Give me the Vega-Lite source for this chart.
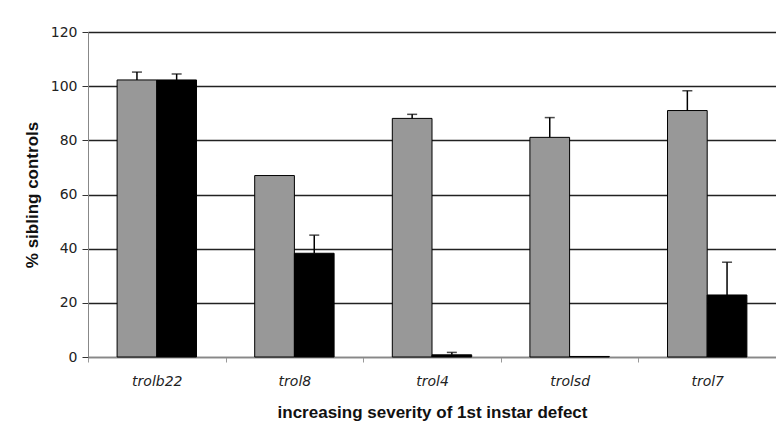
{
  "$schema": "https://vega.github.io/schema/vega-lite/v6.json",
  "width": 688,
  "height": 325,
  "autosize": {"type": "none"},
  "padding": {"left": 88, "top": 32, "right": 0, "bottom": 80},
  "background": "white",
  "config": {
    "view": {"stroke": null},
    "font": "DejaVu Sans"
  },
  "data": {
    "values": [
      {"strain": "trolb22", "group": "a", "value": 102.3, "upper": 105.2},
      {"strain": "trolb22", "group": "b", "value": 102.3, "upper": 104.5},
      {"strain": "trol8", "group": "a", "value": 67.0, "upper": null},
      {"strain": "trol8", "group": "b", "value": 38.3, "upper": 45.0},
      {"strain": "trol4", "group": "a", "value": 88.1, "upper": 89.6},
      {"strain": "trol4", "group": "b", "value": 0.8, "upper": 1.7},
      {"strain": "trolsd", "group": "a", "value": 81.1, "upper": 88.4},
      {"strain": "trolsd", "group": "b", "value": 0.2, "upper": null},
      {"strain": "trol7", "group": "a", "value": 91.0, "upper": 98.3},
      {"strain": "trol7", "group": "b", "value": 22.9, "upper": 35.0}
    ]
  },
  "encoding": {
    "x": {
      "field": "strain",
      "type": "nominal",
      "sort": null,
      "scale": {"padding": 0},
      "axis": {
        "title": "increasing severity of 1st instar defect",
        "titleFont": "Liberation Sans",
        "titleFontSize": 17,
        "titleFontWeight": "bold",
        "titleColor": "#111",
        "titlePadding": 16,
        "labelAngle": 0,
        "labelFont": "DejaVu Sans",
        "labelFontSize": 14,
        "labelFontStyle": "italic",
        "labelColor": "#222",
        "labelPadding": 12,
        "tickBand": "extent",
        "tickSize": 5,
        "tickColor": "#999",
        "domainColor": "#888",
        "grid": false
      }
    },
    "xOffset": {
      "field": "group",
      "type": "nominal",
      "scale": {"paddingInner": 0, "paddingOuter": 0.733}
    }
  },
  "layer": [
    {
      "mark": {"type": "bar", "stroke": "black", "strokeWidth": 1},
      "encoding": {
        "y": {
          "field": "value",
          "type": "quantitative",
          "scale": {"domain": [0, 120], "nice": false},
          "axis": {
            "title": "% sibling controls",
            "titleFont": "Liberation Sans",
            "titleFontSize": 17,
            "titleFontWeight": "bold",
            "titleColor": "#111",
            "titlePadding": 9,
            "values": [0, 20, 40, 60, 80, 100, 120],
            "labelFont": "DejaVu Sans",
            "labelFontSize": 14,
            "labelColor": "#222",
            "labelPadding": 5,
            "tickSize": 6,
            "tickColor": "#333",
            "domainColor": "#888",
            "grid": true,
            "gridColor": "#222",
            "gridWidth": 1.5
          }
        },
        "color": {
          "field": "group",
          "type": "nominal",
          "scale": {"domain": ["a", "b"], "range": ["#989898", "#000000"]},
          "legend": null
        }
      }
    },
    {
      "mark": {"type": "rule", "color": "black", "strokeWidth": 1.5},
      "encoding": {
        "y": {"field": "value", "type": "quantitative"},
        "y2": {"field": "upper"}
      }
    },
    {
      "mark": {"type": "tick", "color": "black", "size": 10, "thickness": 1.5, "orient": "horizontal"},
      "encoding": {
        "y": {"field": "upper", "type": "quantitative"}
      }
    }
  ]
}
